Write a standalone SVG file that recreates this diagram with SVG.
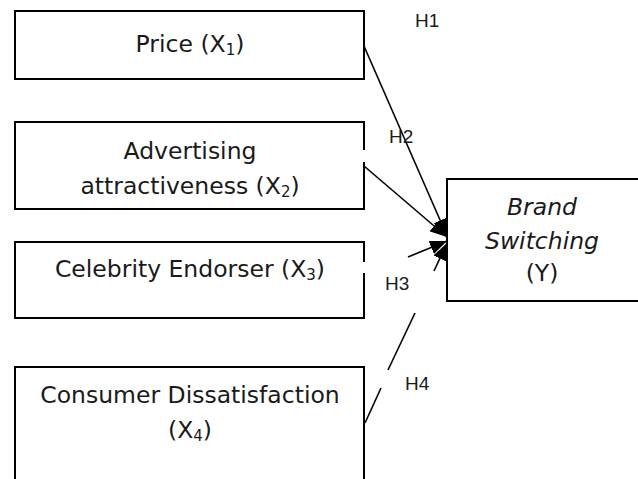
<svg xmlns="http://www.w3.org/2000/svg" width="638" height="479" viewBox="0 0 638 479">
  <style>
    .box { fill: #ffffff; stroke: #000000; stroke-width: 2; }
    .lbl { font-family: "DejaVu Sans", "Liberation Sans", sans-serif; font-size: 23.5px; fill: #1a1a1a; text-anchor: middle; }
    .it { font-style: italic; }
    .sub { font-size: 15px; }
    .hyp { font-family: "Liberation Sans", Arial, sans-serif; font-size: 19px; fill: #1a1a1a; }
    .conn { stroke: #000000; stroke-width: 1.6; fill: none; }
    .gap { fill: #ffffff; stroke: none; }
  </style>
  <defs>
    <marker id="head" markerUnits="userSpaceOnUse" markerWidth="18" markerHeight="14" refX="17" refY="7" orient="auto">
      <path d="M0,0 L17,7 L0,14 z" fill="#000000"/>
    </marker>
  </defs>

  <rect width="638" height="479" fill="#ffffff"/>

  <g id="price">
    <rect class="box" x="15" y="11" width="349" height="68"/>
    <text class="lbl" x="190" y="52">Price (X<tspan class="sub" dy="3">1</tspan><tspan dy="-3">)</tspan></text>
  </g>

  <g id="advertising">
    <rect class="box" x="15" y="122" width="349" height="87"/>
    <text class="lbl" x="190" y="159">Advertising</text>
    <text class="lbl" x="190" y="194">attractiveness (X<tspan class="sub" dy="3">2</tspan><tspan dy="-3">)</tspan></text>
  </g>

  <g id="celebrity">
    <rect class="box" x="15" y="242" width="349" height="76"/>
    <text class="lbl" x="190" y="277">Celebrity Endorser (X<tspan class="sub" dy="3">3</tspan><tspan dy="-3">)</tspan></text>
  </g>

  <g id="dissatisfaction">
    <rect class="box" x="15" y="367" width="349" height="130"/>
    <text class="lbl" x="190" y="403">Consumer Dissatisfaction</text>
    <text class="lbl" x="190" y="438">(X<tspan class="sub" dy="3">4</tspan><tspan dy="-3">)</tspan></text>
  </g>

  <g id="brand-switching">
    <rect class="box" x="447" y="179" width="200" height="122"/>
    <text class="lbl it" x="542" y="215">Brand</text>
    <text class="lbl it" x="542" y="249">Switching</text>
    <text class="lbl" x="542" y="281">(Y)</text>
  </g>

  <!-- label frames cut small breaks into the box edges -->
  <rect class="gap" x="362" y="150" width="5" height="12"/>
  <rect class="gap" x="362" y="262" width="5" height="11"/>

  <g id="connectors">
    <line class="conn" x1="364" y1="46" x2="447" y2="236" marker-end="url(#head)"/>
    <line class="conn" x1="364" y1="166" x2="447" y2="237" marker-end="url(#head)"/>
    <line class="conn" x1="408" y1="257" x2="447" y2="241" marker-end="url(#head)"/>
    <line class="conn" x1="365" y1="423" x2="381" y2="388"/>
    <line class="conn" x1="388" y1="370" x2="415" y2="313"/>
    <line class="conn" x1="434" y1="271" x2="447" y2="243" marker-end="url(#head)"/>
  </g>

  <g id="hypotheses">
    <text class="hyp" x="415" y="27">H1</text>
    <text class="hyp" x="389" y="143">H2</text>
    <text class="hyp" x="385" y="290">H3</text>
    <text class="hyp" x="405" y="390">H4</text>
  </g>
</svg>
